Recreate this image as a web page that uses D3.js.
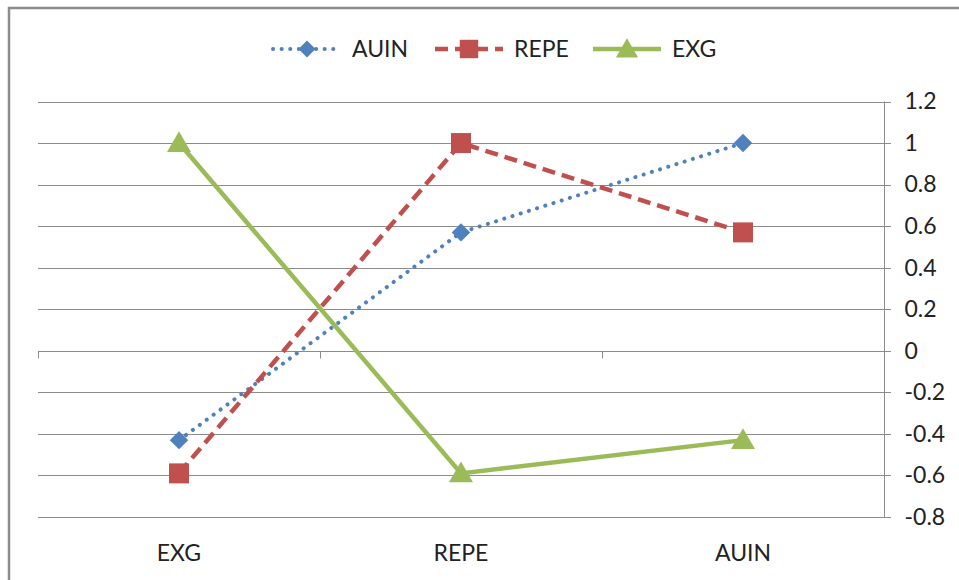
<!DOCTYPE html>
<html><head><meta charset="utf-8">
<script src="https://cdn.jsdelivr.net/npm/d3@7/dist/d3.min.js"></script>
<style>body{margin:0;background:#fff}svg{display:block}text{font-family:Lato,"Open Sans",sans-serif;fill:#222}</style>
</head><body>
<script>
const categories = ["EXG","REPE","AUIN"];
const seriesNames = ["AUIN","REPE","EXG"];
const auin = [-0.43, 0.57, 1.0];
const repe = [-0.59, 1.0, 0.57];
const exg = [1.0, -0.59, -0.43];
const yTicks = [1.2,1,0.8,0.6,0.4,0.2,0,-0.2,-0.4,-0.6,-0.8];

(function(){
const W=959,H=580,FS=23;
const svg=d3.select("body").append("svg").attr("width",W).attr("height",H);
svg.append("rect").attr("x",9).attr("y",8).attr("width",W+10).attr("height",H+10)
  .attr("fill","#fff").attr("stroke","#8c8c8c").attr("stroke-width",2.5);

const pL=38,pR=884,pT=101.5,pB=517;
const x=d3.scaleBand().domain(categories).range([pL,pR]);
const y=d3.scaleLinear().domain([-0.8,1.2]).range([pB,pT]);

// gridlines
svg.append("g").selectAll("line").data(yTicks).join("line")
  .attr("x1",pL).attr("x2",pR+7).attr("y1",d=>Math.round(y(d))+0.5).attr("y2",d=>Math.round(y(d))+0.5)
  .attr("stroke","#8c8c8c").attr("stroke-width",1);

// right axis
const ra=svg.append("g").attr("transform",`translate(${pR+0.5},0)`)
  .call(d3.axisRight(y).tickValues(yTicks).tickSize(0).tickPadding(20).tickFormat(d=>String(+d.toFixed(1))));
ra.select(".domain").attr("stroke","#8c8c8c").attr("d",`M0,${pT}V${pB}`);
ra.selectAll("text").attr("font-size",FS).attr("fill","#222").attr("text-anchor","start").attr("font-family","Lato,'Open Sans',sans-serif");

// x axis at zero
const xa=svg.append("g").attr("transform",`translate(0,${Math.round(y(0))+0.5})`);
xa.append("line").attr("x1",pL).attr("x2",pR).attr("stroke","#8c8c8c");
const edges=categories.map(c=>x(c)).concat([pR]);
xa.selectAll(".tk").data(edges).join("line").attr("class","tk")
  .attr("x1",d=>Math.round(d)+0.5).attr("x2",d=>Math.round(d)+0.5).attr("y1",0).attr("y2",7).attr("stroke","#8c8c8c");
svg.append("g").selectAll("text").data(categories).join("text")
  .attr("x",d=>x(d)+x.bandwidth()/2).attr("y",561).attr("text-anchor","middle").attr("font-size",FS).text(d=>d);

const cx=d=>x(d)+x.bandwidth()/2;
const styles={
  AUIN:{data:auin,color:"#4F81BD",width:4,dash:"0.1 8.5",cap:"round",marker:"diamond"},
  REPE:{data:repe,color:"#C0504D",width:4.5,dash:"13 7",cap:"butt",marker:"square"},
  EXG:{data:exg,color:"#9BBB59",width:4.5,dash:null,cap:"butt",marker:"triangle"}
};
const symType={diamond:d3.symbolSquare,square:d3.symbolSquare,triangle:d3.symbolTriangle};
const symSize={diamond:170,square:400,triangle:250};
const symRot={diamond:45,square:0,triangle:0};
const symDy={diamond:0,square:0,triangle:2};
const line=d3.line().x((d,i)=>cx(categories[i])).y(d=>y(d));

seriesNames.forEach(n=>{
  const s=styles[n];
  svg.append("path").attr("d",line(s.data)).attr("fill","none").attr("stroke",s.color)
    .attr("stroke-width",s.width).attr("stroke-dasharray",s.dash).attr("stroke-linecap",s.cap);
});
seriesNames.forEach(n=>{
  const s=styles[n];
  svg.append("g").selectAll("path").data(s.data).join("path")
    .attr("transform",(d,i)=>`translate(${cx(categories[i])},${y(d)+symDy[s.marker]}) rotate(${symRot[s.marker]})`)
    .attr("d",d3.symbol().type(symType[s.marker]).size(symSize[s.marker]))
    .attr("fill",s.color);
});

// legend
const legX={AUIN:273,REPE:435,EXG:593};
const lg=svg.append("g");
seriesNames.forEach(n=>{
  const s=styles[n];const x0=legX[n],yy=49;
  lg.append("line").attr("x1",x0).attr("x2",x0+68).attr("y1",yy).attr("y2",yy).attr("stroke",s.color)
    .attr("stroke-width",s.width).attr("stroke-dasharray",s.dash).attr("stroke-linecap",s.cap);
  lg.append("path").attr("transform",`translate(${x0+34},${yy+symDy[s.marker]}) rotate(${symRot[s.marker]})`)
    .attr("d",d3.symbol().type(symType[s.marker]).size(symSize[s.marker]*0.85)).attr("fill",s.color);
  lg.append("text").attr("x",x0+79).attr("y",yy+8).attr("font-size",FS).text(n);
});
})();
</script>
</body></html>
